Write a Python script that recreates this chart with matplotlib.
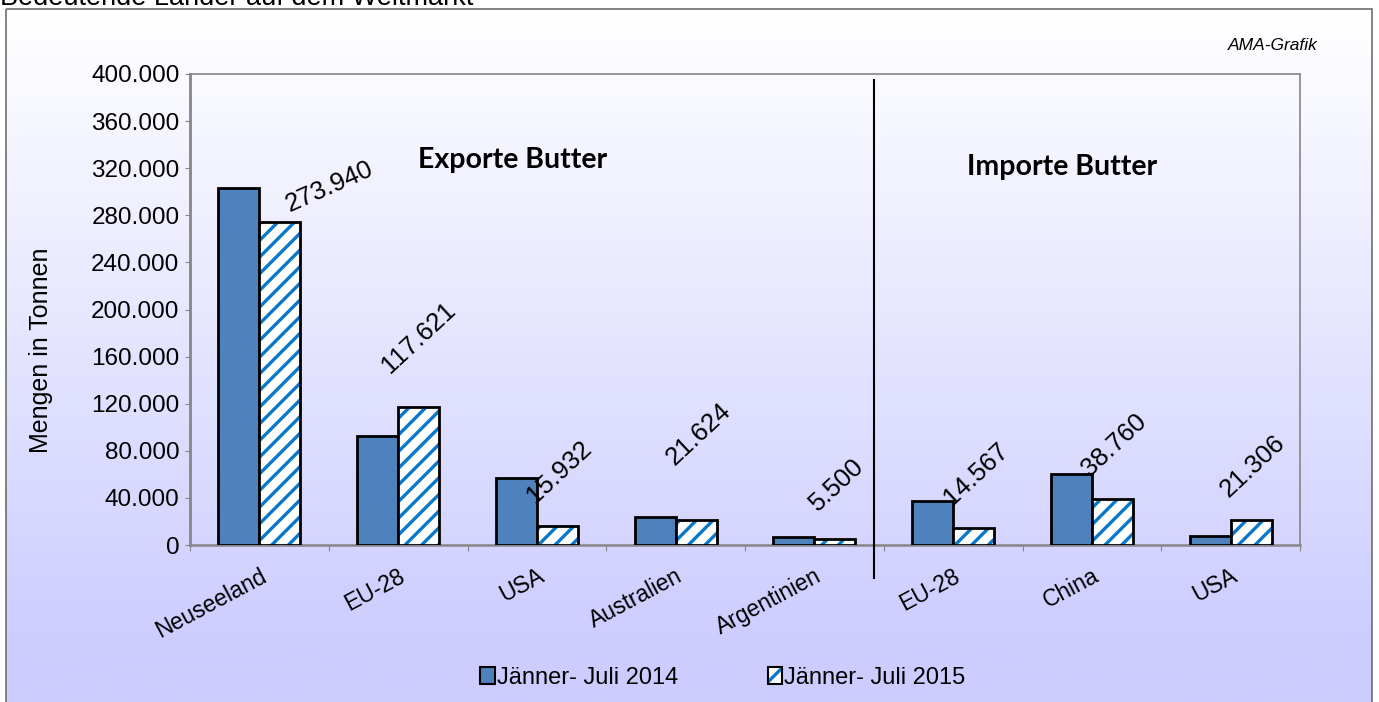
import matplotlib
matplotlib.use("Agg")
import matplotlib.pyplot as plt
import numpy as np
from matplotlib.patches import Patch, Rectangle

plt.rcParams['font.family'] = ['Liberation Sans', 'DejaVu Sans']
plt.rcParams['hatch.linewidth'] = 2.4

# data
categories = ['Neuseeland', 'EU-28', 'USA', 'Australien', 'Argentinien',
	'EU-28', 'China', 'USA']
values_2014 = [303000, 92500, 57000, 24000, 7000, 37500, 60500, 7500]
values_2015 = [273940, 117621, 15932, 21624, 5500, 14567, 38760, 21306]
series_labels = ['Jänner- Juli 2014', 'Jänner- Juli 2015']
y_ticks = [0, 40000, 80000, 120000, 160000, 200000, 240000, 280000,
	320000, 360000, 400000]
n_exports = 5

W, H = 1379, 702
blue = '#4f81bd'
hatch_blue = '#0a78c8'
grey = '#868686'

def fmt(v):
	return '{:,}'.format(v).replace(',', '.')

fig = plt.figure(figsize=(W / 100, H / 100), dpi=100)

# background: frame with vertical gradient
bg = fig.add_axes([0, 0, 1, 1], zorder=-5)
bg.set_xlim(0, W)
bg.set_ylim(H, 0)
bg.axis('off')
rows = np.clip((np.arange(H) - 9) / 640.0, 0, 1)
top = np.array([1.0, 1.0, 1.0])
bottom = np.array([0.80, 0.80, 1.0])
grad = top[None, :] * (1 - rows[:, None]) + bottom[None, :] * rows[:, None]
grad = np.repeat(grad[:, None, :], 2, axis=1)
bg.imshow(grad, extent=(6, 1372, H, 9), aspect='auto', interpolation='bilinear')
bg.add_patch(Rectangle((6, 9), 1366, 720, fill=False, edgecolor='#6e6e6e',
	lw=1.2))

# title (cut off at the top in the original)
fig.text(0.0, 1 - 5 / H, 'Bedeutende Länder auf dem Weltmarkt',
	fontsize=19.5, va='baseline', ha='left')
fig.text(1318 / W, 1 - 45 / H, 'AMA-Grafik', fontsize=12.5, style='italic',
	ha='right', va='center')

ax = fig.add_axes([190 / W, (H - 545) / H, 1110 / W, 471 / H])
ax.set_facecolor('none')

x = np.arange(len(categories))
w = 0.295
ax.bar(x - w / 2, values_2014, w, color=blue, edgecolor='black', lw=2,
	zorder=3)
ax.bar(x + w / 2, values_2015, w, color='white', edgecolor=hatch_blue,
	hatch='//', lw=0, zorder=3)
ax.bar(x + w / 2, values_2015, w, fill=False, edgecolor='black', lw=2,
	zorder=4)

# value labels (offsets in px from top of hatched bar)
label_offsets = {0: (50, 36), 1: (0, 69), 3: (3, 85)}
label_rot = {0: 24}
for i, v in enumerate(values_2015):
	dx, dy = label_offsets.get(i, (2, 54))
	ax.annotate(fmt(v), (x[i] + w / 2, v), xytext=(dx * 0.72, dy * 0.72),
		textcoords='offset points', ha='center', va='center',
		rotation=label_rot.get(i, 43), fontsize=18.5, zorder=5)

ax.set_xlim(-0.5, len(categories) - 0.5)
ax.set_ylim(0, 400000)
ax.set_yticks(y_ticks)
ax.set_yticklabels([fmt(t) for t in y_ticks], fontsize=17.5)
ax.tick_params(axis='y', direction='out', length=3.6, color=grey, pad=4)

ax.set_xticks(np.arange(-0.5, len(categories), 1.0))
ax.set_xticklabels([])
ax.tick_params(axis='x', which='major', direction='out', length=4.5,
	color=grey)
ax.set_xticks(x, minor=True)
ax.set_xticklabels(categories, minor=True, rotation=28, ha='right',
	rotation_mode='anchor', fontsize=16.5)
ax.tick_params(axis='x', which='minor', length=0, pad=14)

for s in ax.spines.values():
	s.set_color(grey)
	s.set_linewidth(1.2)
ax.spines['left'].set_linewidth(2)
ax.spines['bottom'].set_linewidth(1.8)

ax.set_ylabel('Mengen in Tonnen', fontsize=18)
ax.yaxis.set_label_coords(-0.123, 0.414)

# separator between exports and imports
sep = n_exports - 0.57
ax.plot([sep, sep], [394900, -28000], color='black', lw=1.5,
	clip_on=False, zorder=6)

ax.text(0.291, 0.817, 'Exporte Butter', transform=ax.transAxes,
	fontsize=20.5, fontweight='bold', family='Lato', ha='center', va='center')
ax.text(0.786, 0.803, 'Importe Butter', transform=ax.transAxes,
	fontsize=20.5, fontweight='bold', family='Lato', ha='center', va='center')

h1 = Patch(facecolor=blue, edgecolor='black', lw=1.5)
h2a = Patch(facecolor='white', edgecolor=hatch_blue, hatch='//', lw=0)
h2b = Patch(fill=False, edgecolor='black', lw=1.5)
fig.legend([h1, (h2a, h2b)], series_labels, loc='center',
	bbox_to_anchor=(723 / W, 1 - 678 / H), ncol=2, frameon=False,
	fontsize=17, handlelength=0.6, handleheight=0.7, handletextpad=0.1,
	columnspacing=3.8)

fig.savefig('out.png', dpi=100)
